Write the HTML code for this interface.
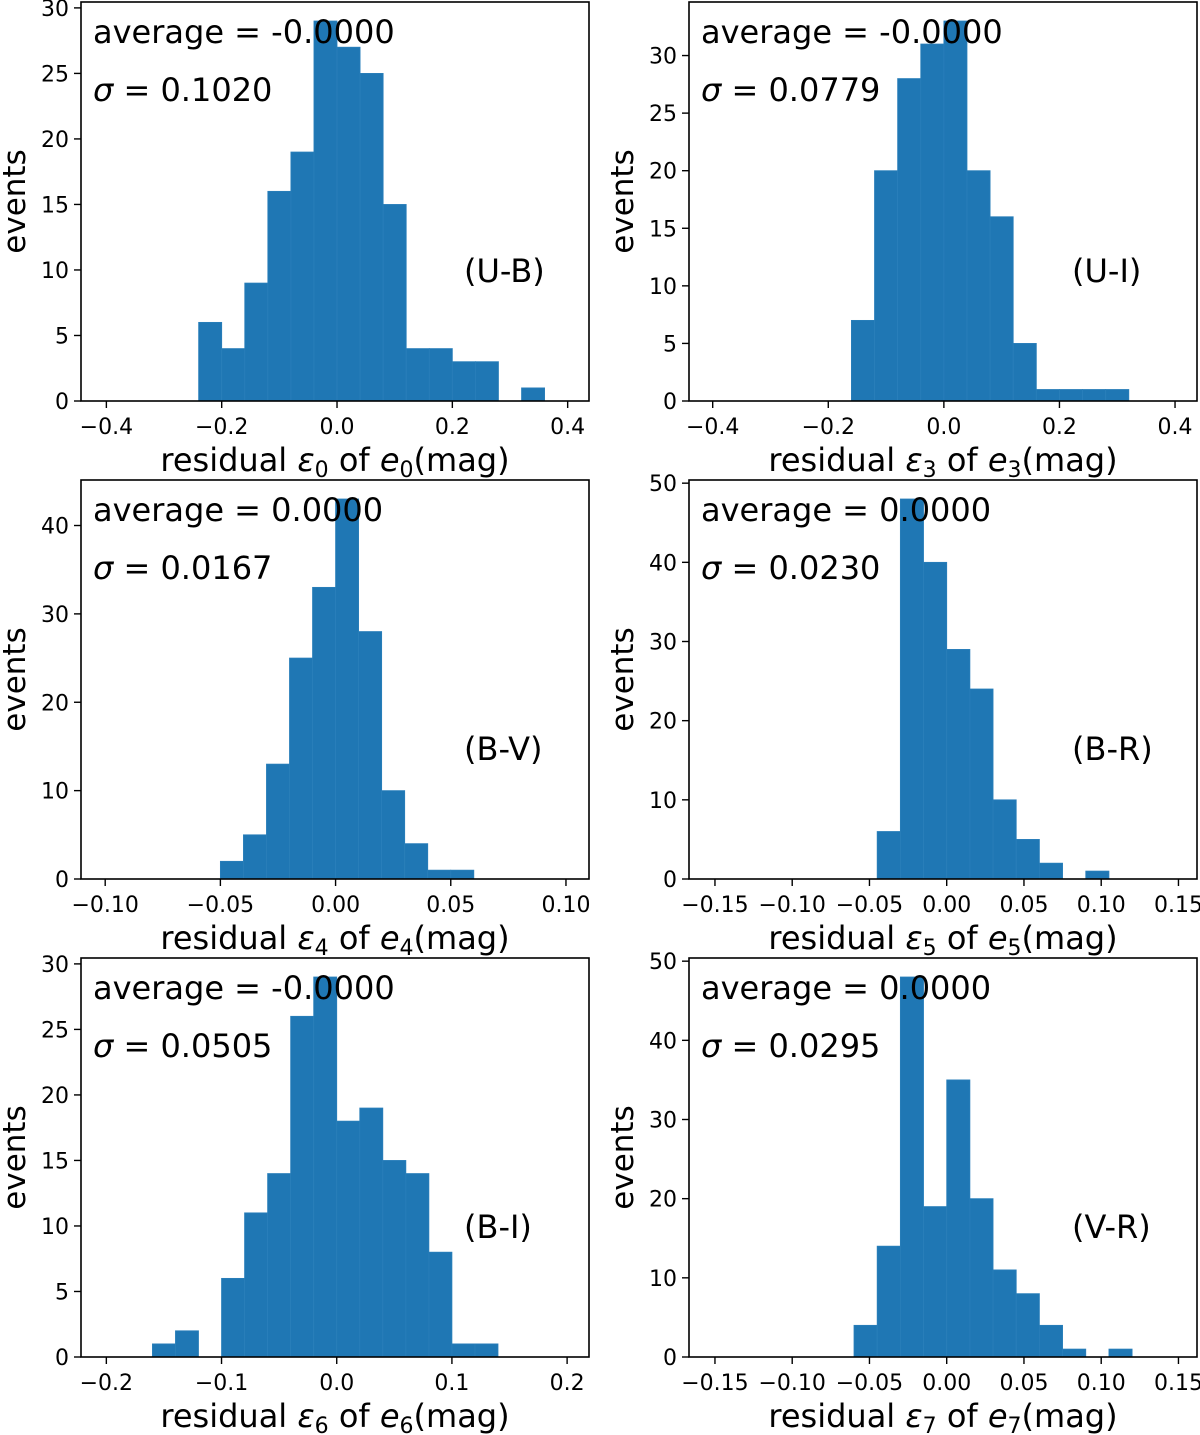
<!DOCTYPE html>
<html><head><meta charset="utf-8">
<style>
html,body{margin:0;padding:0;background:#fff;}
svg{display:block;font-family:"DejaVu Sans","Liberation Sans",sans-serif;}
</style></head>
<body>
<svg id="fig" width="1200" height="1435" viewBox="0 0 1200 1435"></svg>
<script>
// ---- data arrays ----
const binStarts = [-0.24, -0.16, -0.05, -0.045, -0.16, -0.06];
const binWidths = [0.04, 0.04, 0.01, 0.015, 0.02, 0.015];
const countsUB = [6,4,9,16,19,29,27,25,15,4,4,3,3,0,1];
const countsUI = [7,20,28,31,33,20,16,5,1,1,1,1];
const countsBV = [2,5,13,25,33,43,28,10,4,1,1];
const countsBR = [6,48,40,29,24,10,5,2,0,1];
const countsBI = [1,2,0,6,11,14,26,29,18,19,15,14,8,1,1];
const countsVR = [4,14,48,19,35,20,11,8,4,1,0,1];
const bandLabels = ["(U-B)","(U-I)","(B-V)","(B-R)","(B-I)","(V-R)"];
const averages = ["-0.0000","-0.0000","0.0000","0.0000","-0.0000","0.0000"];
const sigmas = ["0.1020","0.0779","0.0167","0.0230","0.0505","0.0295"];
const subIdx = ["0","3","4","5","6","7"];
const xTicks1 = [-0.4,-0.2,0,0.2,0.4];
const xTicks2 = [-0.10,-0.05,0,0.05,0.10];
const xTicks3 = [-0.15,-0.10,-0.05,0,0.05,0.10,0.15];
const xTicks4 = [-0.2,-0.1,0,0.1,0.2];
const yTicks30 = [0,5,10,15,20,25,30];
const yTicks40 = [0,10,20,30,40];
const yTicks50 = [0,10,20,30,40,50];

const panels = [
 {c:countsUB, L:81, T:2, xmin:-0.444, xmax:0.437, ymax:30.45, xt:xTicks1, dec:1, yt:yTicks30},
 {c:countsUI, L:689, T:2, xmin:-0.441, xmax:0.438, ymax:34.65, xt:xTicks1, dec:1, yt:yTicks30},
 {c:countsBV, L:81, T:480, xmin:-0.1105, xmax:0.110, ymax:45.15, xt:xTicks2, dec:2, yt:yTicks40},
 {c:countsBR, L:689, T:480, xmin:-0.1668, xmax:0.162, ymax:50.4, xt:xTicks3, dec:2, yt:yTicks50},
 {c:countsBI, L:81, T:958, xmin:-0.222, xmax:0.219, ymax:30.45, xt:xTicks4, dec:1, yt:yTicks30},
 {c:countsVR, L:689, T:958, xmin:-0.1668, xmax:0.162, ymax:50.4, xt:xTicks3, dec:2, yt:yTicks50}
];
const W = 508, H = 399;
const NS = "http://www.w3.org/2000/svg";
const svg = document.getElementById('fig');
function mk(tag, attrs, parent, text){
  const e = document.createElementNS(NS, tag);
  for (const k in attrs) e.setAttribute(k, attrs[k]);
  if (text !== undefined) e.textContent = text;
  parent.appendChild(e);
  return e;
}
function fmt(v, d){ const s = Math.abs(v).toFixed(d); return (v < -1e-9 ? "\u2212" : "") + s; }

panels.forEach((p, i) => {
  const g = mk('g', {}, svg);
  
  
  const xs = v => p.L + (v - p.xmin) / (p.xmax - p.xmin) * W;
  const ys = v => p.T + H - v / p.ymax * H;
  p.c.forEach((n, k) => {
    if (n <= 0) return;
    const x0 = xs(binStarts[i] + k * binWidths[i]);
    const x1 = xs(binStarts[i] + (k + 1) * binWidths[i]);
    const r = mk('rect', {x:x0, y:ys(n), width:x1 - x0, height:ys(0) - ys(n), fill:'#1f77b4', stroke:'#2a7fba', 'stroke-width':0.8}, g);
    
    
  });
  const fr = mk('rect', {x:p.L, y:p.T, width:W, height:H, fill:'none', stroke:'#000', 'stroke-width':1.6}, g);
  
  
  p.xt.forEach(v => {
    const x = xs(v);
    mk('line', {x1:x, x2:x, y1:p.T + H, y2:p.T + H + 7, stroke:'#000', 'stroke-width':1.4}, g);
    const t = mk('text', {x:x, y:p.T + H + 33, 'font-size':22, 'text-anchor':'middle'}, g, fmt(v, p.dec));
    
    
  });
  p.yt.forEach(v => {
    const y = ys(v);
    mk('line', {x1:p.L - 7, x2:p.L, y1:y, y2:y, stroke:'#000', 'stroke-width':1.4}, g);
    const t = mk('text', {x:p.L - 12, y:y + 8, 'font-size':22, 'text-anchor':'end'}, g, String(v));
    
    
  });
  const cy = p.T + H / 2;
  const yl = mk('text', {x:0, y:0, 'font-size':31, 'text-anchor':'middle', transform:'translate(' + (p.L - 56) + ',' + cy + ') rotate(-90)'}, g, 'events');
  
  
  const xl = mk('text', {x:p.L + W / 2, y:p.T + H + 70, 'font-size':32, 'text-anchor':'middle'}, g);
  
  
  mk('tspan', {}, xl, 'residual ');
  mk('tspan', {'font-style':'italic'}, xl, '\u03b5');
  mk('tspan', {'font-size':22, dy:6}, xl, subIdx[i]);
  mk('tspan', {dy:-6}, xl, ' of ');
  mk('tspan', {'font-style':'italic'}, xl, 'e');
  mk('tspan', {'font-size':22, dy:6}, xl, subIdx[i]);
  mk('tspan', {dy:-6}, xl, '(mag)');
  const a = mk('text', {x:p.L + 12, y:p.T + 41, 'font-size':32}, g, 'average = ' + averages[i]);
  
  
  const s = mk('text', {x:p.L + 12, y:p.T + 99, 'font-size':32}, g);
  
  
  mk('tspan', {'font-style':'italic'}, s, '\u03c3');
  mk('tspan', {}, s, ' = ' + sigmas[i]);
  const b = mk('text', {x:p.L + 383, y:p.T + 280, 'font-size':32}, g, bandLabels[i]);
  
  
});
</script>
</body></html>
